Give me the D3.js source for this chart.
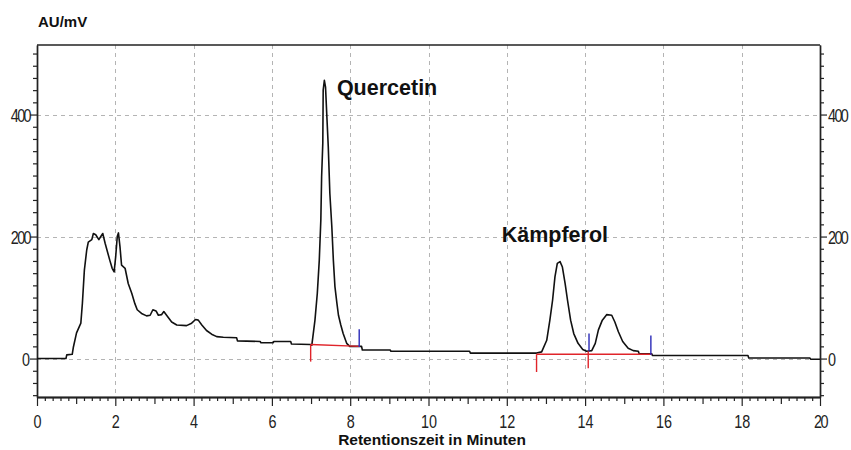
<!DOCTYPE html>
<html>
<head>
<meta charset="utf-8">
<script src="https://cdn.jsdelivr.net/npm/d3@7"></script>
<style>
  html, body { margin: 0; padding: 0; background: #fff; }
  svg { display: block; font-family: "Liberation Sans", Arial, sans-serif; }
</style>
</head>
<body>
<svg id="chart" width="851" height="450"></svg>
<script>
// ---- data ----
const time = [0, 0.74, 0.76, 0.90, 0.93, 1.01, 1.12, 1.16, 1.21, 1.27, 1.31, 1.40, 1.44, 1.50, 1.58, 1.63, 1.68, 1.74, 1.86, 1.92, 1.97, 2.01, 2.05, 2.08, 2.12, 2.16, 2.25, 2.33, 2.42, 2.50, 2.56, 2.67, 2.80, 2.89, 2.96, 3.04, 3.10, 3.18, 3.24, 3.31, 3.44, 3.57, 3.82, 3.95, 4.05, 4.12, 4.21, 4.33, 4.46, 4.59, 4.76, 5.10, 5.12, 5.70, 5.72, 6.03, 6.05, 6.48, 6.50, 6.98, 7.02, 7.10, 7.16, 7.21, 7.25, 7.27, 7.30, 7.31, 7.34, 7.37, 7.40, 7.44, 7.48, 7.53, 7.57, 7.61, 7.66, 7.70, 7.76, 7.82, 7.91, 7.99, 8.29, 8.31, 9.02, 9.04, 11.05, 11.07, 12.76, 12.89, 13.02, 13.10, 13.17, 13.23, 13.29, 13.36, 13.42, 13.49, 13.55, 13.63, 13.71, 13.82, 13.94, 14.04, 14.17, 14.26, 14.34, 14.44, 14.55, 14.68, 14.76, 14.85, 14.96, 15.10, 15.23, 15.36, 15.38, 15.70, 15.72, 18.16, 18.18, 19.74, 19.76, 20];
const signal = [0, 0, 6, 7, 19, 42, 58, 91, 145, 178, 191, 195, 205, 203, 195, 200, 205, 189, 161, 148, 142, 167, 200, 206, 183, 153, 148, 123, 107, 90, 80, 74, 70, 71, 80, 78, 71, 72, 77, 71, 60, 55, 54, 58, 64, 63, 55, 46, 40, 36, 35, 34, 29, 28, 26, 26, 28, 28, 24, 23, 22, 63, 107, 161, 227, 298, 353, 440, 456, 445, 402, 347, 271, 217, 161, 118, 91, 71, 55, 41, 25, 20, 20, 14, 14, 12, 12, 9, 9, 11, 30, 63, 96, 134, 156, 159, 150, 123, 96, 63, 41, 25, 15, 12, 13, 25, 47, 63, 72, 71, 60, 44, 28, 17, 13, 12, 8, 8, 5, 5, 1, 1, -1, -1];

// integration baselines: [tStart, vStart, tEnd, vEnd]
const baselines = [[6.99, 23, 8.25, 20], [12.76, 7, 15.70, 7]];
// peak start markers (red): [t, vTop, vBottom]
const startMarks = [[6.99, 23, -5], [12.76, 7, -22], [14.08, 12, -16]];
// peak end markers (blue): [t, vTop, vBottom]
const endMarks = [[8.23, 48, 19], [14.10, 41, 12], [15.68, 38, 6]];

const peakNames = ["Quercetin", "Kämpferol"];
const peakLabelT = [7.66, 11.87];
const peakLabelV = [432, 191];

const xTicks = [0, 2, 4, 6, 8, 10, 12, 14, 16, 18, 20];
const yTicks = [0, 200, 400];
const xTitle = "Retentionszeit in Minuten";
const yTitle = "AU/mV";

// ---- layout ----
const L = 37, R = 820, T = 45, B = 397;
const svg = d3.select("#chart");
const x = d3.scaleLinear().domain([0, 20]).range([L, R]);
const y = d3.scaleLinear().domain([-63, 514]).range([B, T]);

const axisColor = "#222";

// grid
const grid = svg.append("g").attr("stroke", "#b4b4b4").attr("stroke-width", 1).attr("stroke-dasharray", "4,4");
grid.selectAll("line.v").data(xTicks.filter(d => d > 0 && d < 20)).enter().append("line")
  .attr("x1", d => Math.round(x(d)) + 0.5).attr("x2", d => Math.round(x(d)) + 0.5)
  .attr("y1", T).attr("y2", B);
grid.selectAll("line.h").data(yTicks).enter().append("line")
  .attr("y1", d => Math.round(y(d)) + 0.5).attr("y2", d => Math.round(y(d)) + 0.5)
  .attr("x1", L).attr("x2", R);

// minor ticks
const yMinor = d3.range(-60, 514, 20).filter(d => !yTicks.includes(d));
const xMinor = d3.range(0, 20.001, 0.2).map(d => +d.toFixed(1)).filter(d => Math.abs(d - Math.round(d)) > 1e-6);
const xMedium = d3.range(1, 20, 2);

function styleAxis(g) {
  g.select(".domain").attr("stroke", axisColor).attr("stroke-width", 1.4);
  g.selectAll(".tick line").attr("stroke", axisColor).attr("stroke-width", 1.2);
}

svg.append("g").attr("transform", `translate(0,${B})`)
  .call(d3.axisBottom(x).tickValues(xMinor).tickSize(4).tickFormat("").tickSizeOuter(0)).call(styleAxis);
svg.append("g").attr("transform", `translate(0,${B})`)
  .call(d3.axisBottom(x).tickValues(xMedium).tickSize(7).tickFormat("").tickSizeOuter(0)).call(styleAxis);
svg.append("g").attr("transform", `translate(${L},0)`)
  .call(d3.axisLeft(y).tickValues(yMinor).tickSize(4).tickFormat("").tickSizeOuter(0)).call(styleAxis);
svg.append("g").attr("transform", `translate(${R},0)`)
  .call(d3.axisRight(y).tickValues(yMinor).tickSize(4).tickFormat("").tickSizeOuter(0)).call(styleAxis);

// major axes with labels
const sx = 0.8;
const xAxis = svg.append("g").attr("transform", `translate(0,${B})`)
  .call(d3.axisBottom(x).tickValues(xTicks).tickSize(9).tickFormat(d3.format("d")).tickSizeOuter(0)).call(styleAxis);
xAxis.selectAll(".tick text").attr("font-size", 18).attr("fill", "#222").attr("font-family", "Liberation Sans, Arial")
  .attr("y", 31).attr("dy", 0).attr("transform", `scale(${sx},1)`)
  .attr("letter-spacing", d => d === 20 ? -2 : 0);

const yLeft = svg.append("g").attr("transform", `translate(${L},0)`)
  .call(d3.axisLeft(y).tickValues(yTicks).tickSize(7).tickFormat(d3.format("d")).tickSizeOuter(0)).call(styleAxis);
yLeft.selectAll(".tick text").attr("font-size", 18).attr("fill", "#222").attr("font-family", "Liberation Sans, Arial")
  .attr("x", -7 / sx).attr("dy", "0.36em").attr("transform", `scale(${sx},1)`)
  .attr("letter-spacing", d => d >= 100 ? -2 : 0);

const yRight = svg.append("g").attr("transform", `translate(${R},0)`)
  .call(d3.axisRight(y).tickValues(yTicks).tickSize(7).tickFormat(d3.format("d")).tickSizeOuter(0)).call(styleAxis);
yRight.selectAll(".tick text").attr("font-size", 18).attr("fill", "#222").attr("font-family", "Liberation Sans, Arial")
  .attr("x", 8 / sx).attr("dy", "0.36em").attr("transform", `scale(${sx},1)`)
  .attr("letter-spacing", d => d >= 100 ? -2 : 0);

// top border
svg.append("line").attr("x1", L).attr("x2", R).attr("y1", T).attr("y2", T)
  .attr("stroke", axisColor).attr("stroke-width", 1.4);

// trace
const pts = time.map((t, i) => [t, signal[i]]);
svg.append("path").datum(pts)
  .attr("fill", "none").attr("stroke", "#111").attr("stroke-width", 1.6).attr("stroke-linejoin", "round")
  .attr("d", d3.line().x(d => x(d[0])).y(d => y(d[1])));

// integration baselines
svg.selectAll("line.base").data(baselines).enter().append("line")
  .attr("x1", d => x(d[0])).attr("y1", d => y(d[1])).attr("x2", d => x(d[2])).attr("y2", d => y(d[3]))
  .attr("stroke", "#e0242a").attr("stroke-width", 1.4);
svg.selectAll("line.start").data(startMarks).enter().append("line")
  .attr("x1", d => x(d[0])).attr("x2", d => x(d[0])).attr("y1", d => y(d[1])).attr("y2", d => y(d[2]))
  .attr("stroke", "#e0242a").attr("stroke-width", 1.4);
svg.selectAll("line.end").data(endMarks).enter().append("line")
  .attr("x1", d => x(d[0])).attr("x2", d => x(d[0])).attr("y1", d => y(d[1])).attr("y2", d => y(d[2]))
  .attr("stroke", "#2a2ab8").attr("stroke-width", 1.4);

// peak labels
svg.selectAll("text.peak").data(peakNames).enter().append("text")
  .attr("x", (d, i) => x(peakLabelT[i])).attr("y", (d, i) => y(peakLabelV[i]))
  .attr("font-size", 21.5).attr("font-weight", "bold").attr("fill", "#111").text(d => d);

// titles
svg.append("text").attr("x", 38).attr("y", 27).attr("font-size", 15).attr("font-weight", "bold")
  .attr("fill", "#111").text(yTitle);
svg.append("text").attr("x", 432).attr("y", 445).attr("text-anchor", "middle").attr("font-size", 15.5)
  .attr("font-weight", "bold").attr("fill", "#111").text(xTitle);
</script>
</body>
</html>
